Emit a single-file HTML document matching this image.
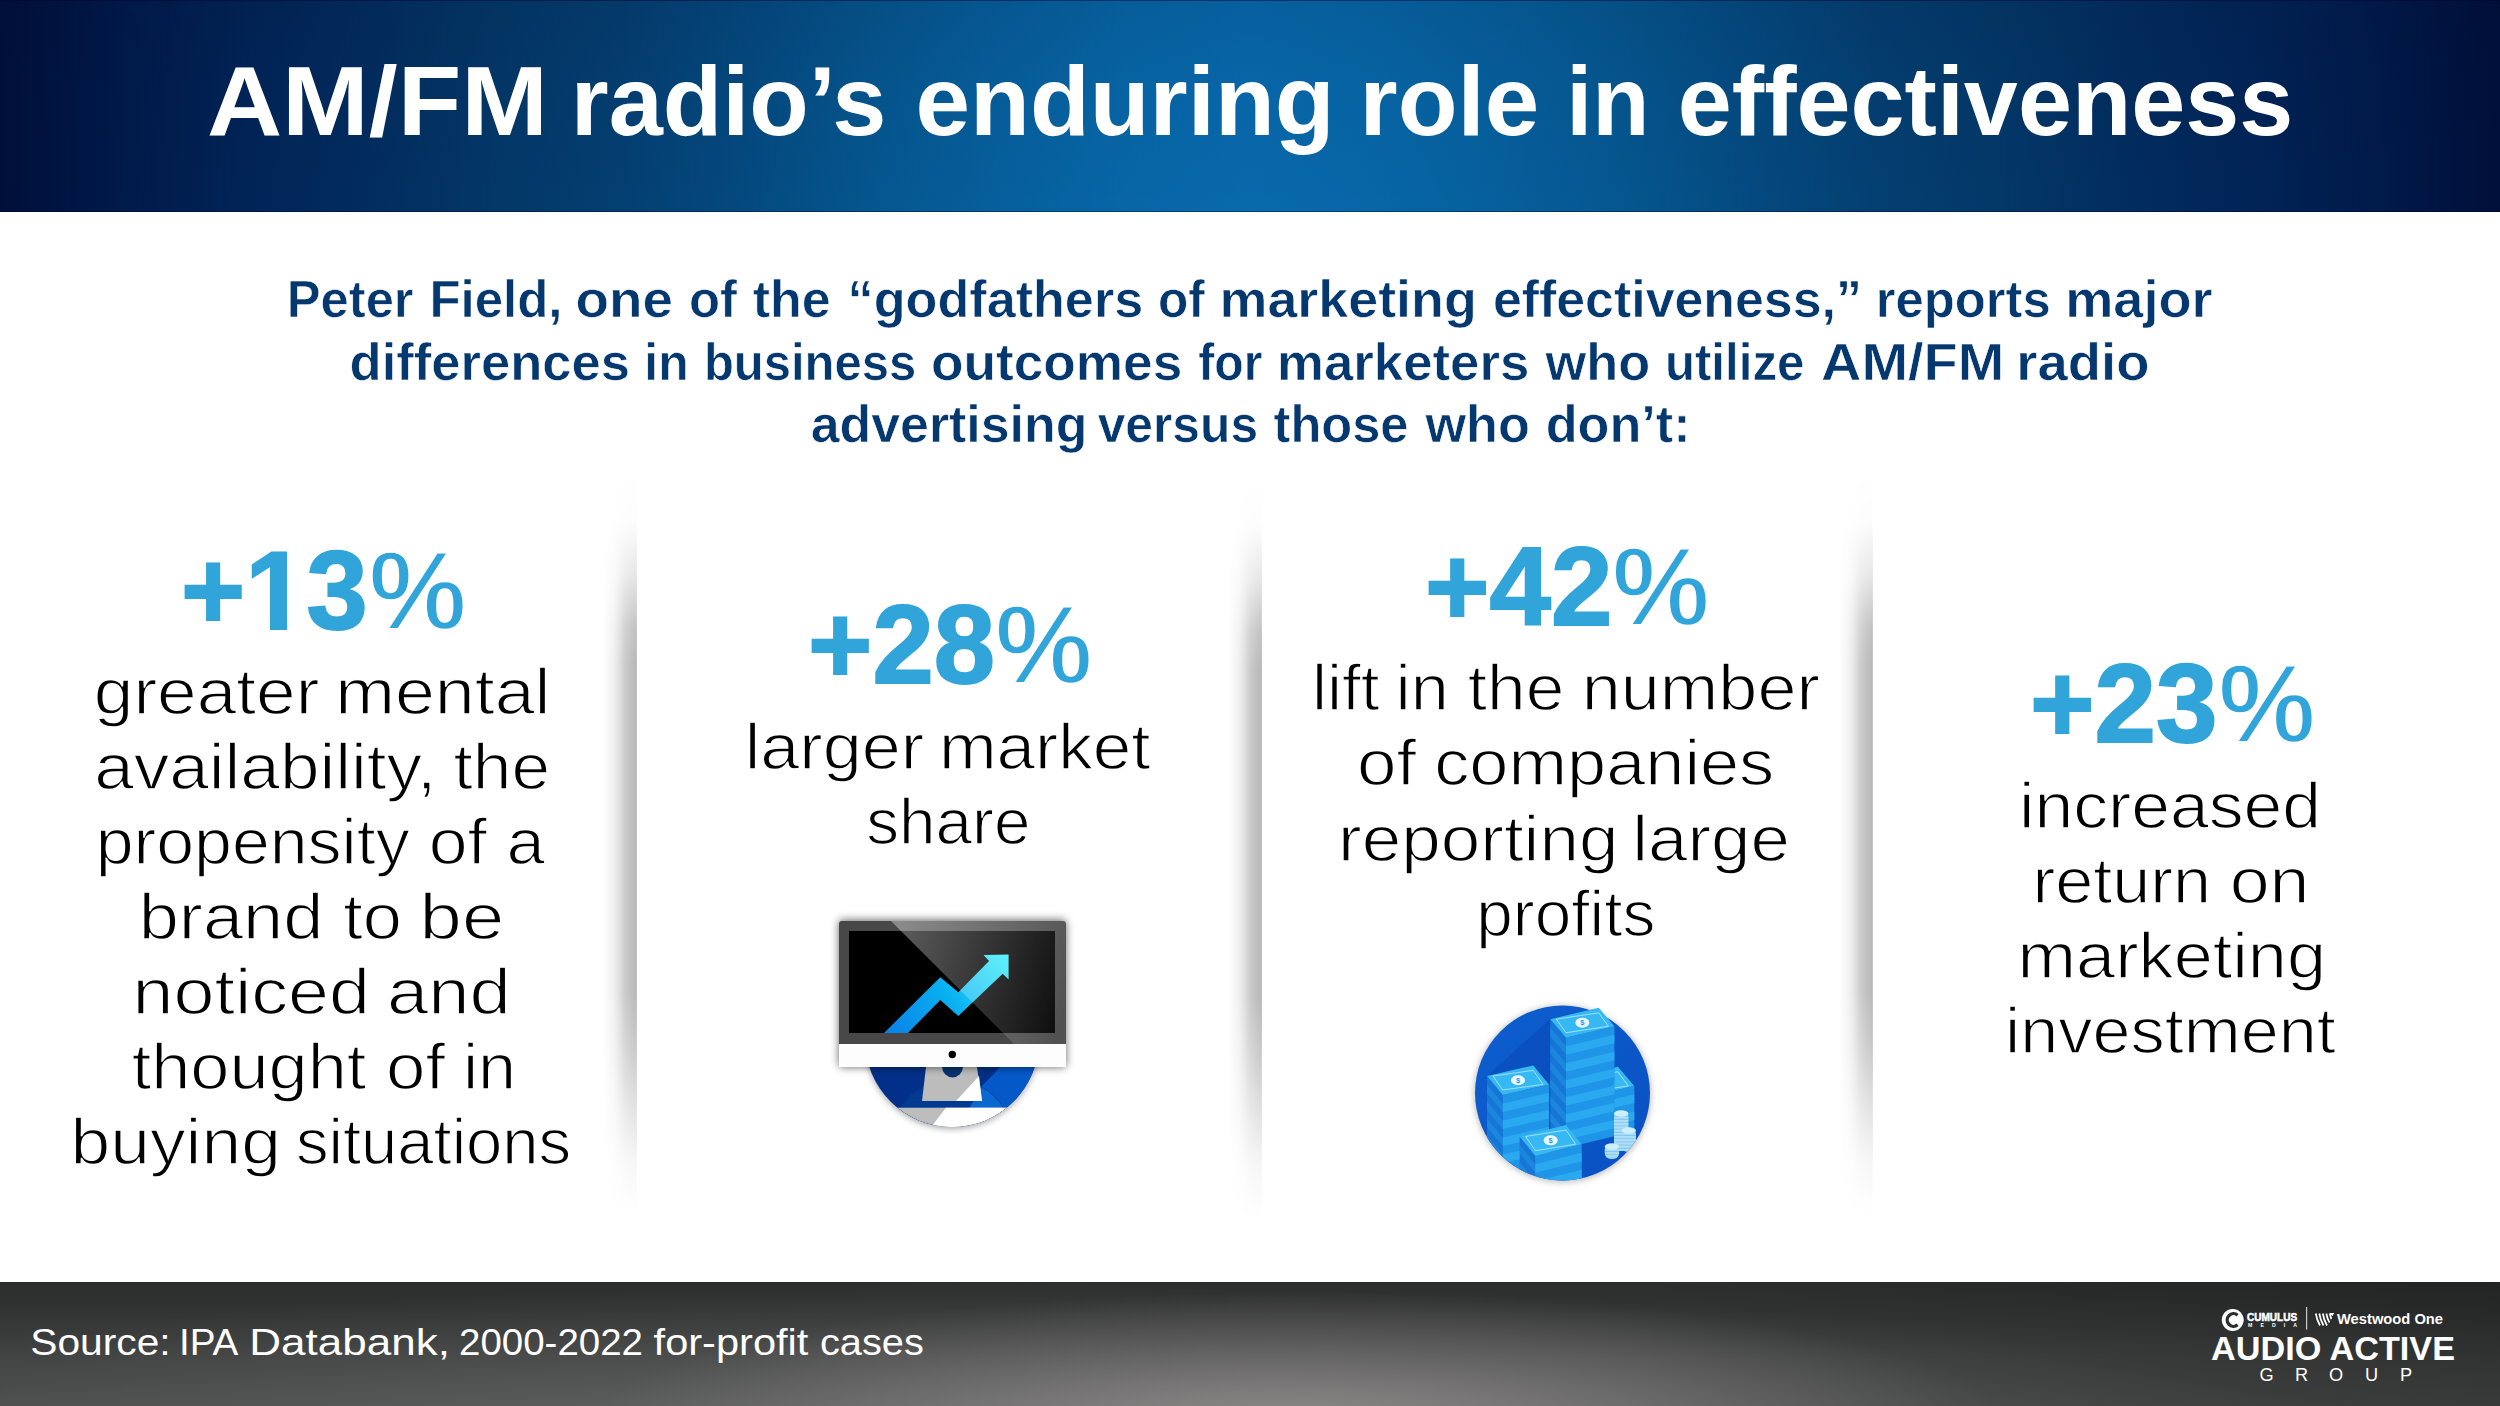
<!DOCTYPE html>
<html><head><meta charset="utf-8"><title>AM/FM radio’s enduring role in effectiveness</title><style>
html,body{margin:0;padding:0;}
body{width:2500px;height:1406px;overflow:hidden;position:relative;background:#fff;font-family:"Liberation Sans",sans-serif;}
.hdr{position:absolute;left:0;top:0;width:2500px;height:212px;
 background:
  linear-gradient(to bottom, rgba(0,10,40,0.10) 0%, rgba(0,10,40,0.04) 40%, rgba(0,0,0,0) 100%),
  linear-gradient(to right,#000f3a 0%,#001a4a 5%,#012457 10%,#022d5f 15%,#033868 20%,#043f72 25%,#044a80 30%,#05568f 35%,#065f9c 40%,#0766a6 45%,#0869ac 50%,#0766a6 55%,#065f9c 60%,#05568f 65%,#044a80 70%,#043f72 75%,#033868 80%,#022d5f 85%,#012457 90%,#001a4a 95%,#000f3a 100%);}
.hdr:before{content:"";position:absolute;left:0;top:0;width:100%;height:1px;background:rgba(0,0,45,0.45);}
.hdr:after{content:"";position:absolute;left:0;bottom:0;width:100%;height:1px;background:rgba(0,0,25,0.4);}
.ftr{position:absolute;left:0;top:1282px;width:2500px;height:124px;
 background:
  radial-gradient(ellipse 700px 125px at 1300px 135px, rgba(175,168,168,0.55) 0%, rgba(165,160,160,0.25) 55%, rgba(150,145,145,0) 100%),
  radial-gradient(ellipse 1300px 150px at 1000px 150px, rgba(150,150,150,0.35) 0%, rgba(150,150,150,0.12) 60%, rgba(150,150,150,0) 100%),
  linear-gradient(to right, rgba(0,0,0,0) 0%, rgba(0,0,0,0) 65%, rgba(10,12,12,0.28) 100%),
  linear-gradient(to bottom,#2c2d2d 0%,#313232 20%,#404141 60%,#4a4b4b 100%);}
.sh{position:absolute;width:34px;
 background:linear-gradient(to right,rgba(0,0,0,0) 0%,rgba(0,0,0,0.01) 6%,rgba(0,0,0,0.03) 18%,rgba(0,0,0,0.06) 33%,rgba(0,0,0,0.12) 48%,rgba(0,0,0,0.2) 64%,rgba(0,0,0,0.24) 79%,rgba(0,0,0,0.28) 97%,rgba(0,0,0,0.22) 100%);
 -webkit-mask-image:linear-gradient(to bottom,rgba(0,0,0,0) 0%,rgba(0,0,0,0.04) 7%,rgba(0,0,0,0.35) 14%,rgba(0,0,0,0.85) 21%,#000 26%,#000 70%,rgba(0,0,0,0.75) 78%,rgba(0,0,0,0.4) 86%,rgba(0,0,0,0.12) 93%,rgba(0,0,0,0) 100%);
 mask-image:linear-gradient(to bottom,rgba(0,0,0,0) 0%,rgba(0,0,0,0.04) 7%,rgba(0,0,0,0.35) 14%,rgba(0,0,0,0.85) 21%,#000 26%,#000 70%,rgba(0,0,0,0.75) 78%,rgba(0,0,0,0.4) 86%,rgba(0,0,0,0.12) 93%,rgba(0,0,0,0) 100%);}
svg.main{position:absolute;left:0;top:0;}
</style></head>
<body>
<div class="hdr"></div>

<div class="sh" style="left:603px;top:470px;height:745px"></div>
<div class="sh" style="left:1228px;top:475px;height:745px"></div>
<div class="sh" style="left:1838.5px;top:470px;height:745px"></div>

<div class="ftr"></div>
<svg class="main" width="2500" height="1406" viewBox="0 0 2500 1406" font-family="'Liberation Sans', sans-serif">

<defs>
 <clipPath id="clip1"><rect x="100" y="480" width="400" height="136"/><rect x="100" y="616" width="150" height="30"/><rect x="270" y="616" width="17" height="30"/><rect x="305.5" y="616" width="200" height="30"/></clipPath>
 <clipPath id="mcirc"><circle cx="952" cy="1040" r="87"/></clipPath>
 <clipPath id="refl"><polygon points="891,921 1070,921 1070,1044 1014,1044"/></clipPath>
 <linearGradient id="reflg" x1="891" y1="960" x2="1066" y2="1010" gradientUnits="userSpaceOnUse"><stop offset="0" stop-color="#fff" stop-opacity="0.36"/><stop offset="0.45" stop-color="#fff" stop-opacity="0.22"/><stop offset="1" stop-color="#fff" stop-opacity="0.05"/></linearGradient>
 <linearGradient id="bez" x1="0" y1="0" x2="1" y2="0"><stop offset="0" stop-color="#808080"/><stop offset="1" stop-color="#565656"/></linearGradient>
 <linearGradient id="arr" x1="884" y1="1033" x2="1009" y2="955" gradientUnits="userSpaceOnUse"><stop offset="0" stop-color="#0a7fe8"/><stop offset="0.5" stop-color="#08b0f0"/><stop offset="1" stop-color="#40f0fa"/></linearGradient>
 <filter id="blur4" x="-20%" y="-20%" width="140%" height="140%"><feGaussianBlur stdDeviation="4"/></filter>
 <filter id="blur3" x="-20%" y="-20%" width="140%" height="140%"><feGaussianBlur stdDeviation="3"/></filter>
</defs>
<g>
 <circle cx="952" cy="1042" r="87" fill="rgba(0,0,0,0.35)" filter="url(#blur3)"/>
 <g clip-path="url(#mcirc)">
  <rect x="860" y="950" width="190" height="180" fill="#022f88"/>
  <polygon points="1007,1060 1060,1000 1060,1140 930,1140" fill="#0558c8"/>
  <circle cx="952" cy="1140" r="61" fill="#003a92"/>
  <path d="M981,1087 A61,61 0 0 1 1013,1140 L952,1140 Z" fill="#0a68d0"/>
  <polygon points="926,1067 977,1067 982,1101 922,1101" fill="#bcbcbc"/>
  <polygon points="979,1076 982,1101 956,1101" fill="#ffffff"/>
  <circle cx="952.5" cy="1067" r="10.4" fill="#08336e"/>
  <rect x="860" y="1107.7" width="190" height="25" fill="#bdbdbd"/>
  <polygon points="946,1107.7 1050,1107.7 1050,1135 925,1135" fill="#ffffff"/>
 </g>
 <rect x="839" y="920" width="227" height="147" rx="3" fill="rgba(0,0,0,0.6)" filter="url(#blur4)"/>
 <rect x="839" y="921" width="227" height="146" rx="3" fill="#484848"/>
 <rect x="839" y="1044" width="227" height="23" fill="#fdfdfd"/>
 <rect x="839" y="1063" width="227" height="4" rx="3" fill="#fdfdfd"/>
 <rect x="849" y="931" width="206" height="102" fill="#000"/>
 <polygon points="884,1033 940.3,977.2 958.3,992.2 989,961.1 983.5,955 1008.6,954.6 1008.6,979.4 1002.7,973.7 958.3,1016.1 940.3,999.9 907.9,1033" fill="url(#arr)"/>
 <polygon points="891,921 1066,921 1066,1044 1014,1044" fill="url(#reflg)"/>
 <circle cx="952.3" cy="1054.5" r="3.7" fill="#000"/>
</g>


<defs>
 <clipPath id="ccirc"><circle cx="1562.5" cy="1093" r="87.5"/></clipPath>
 <pattern id="coinp" patternUnits="userSpaceOnUse" x="0" y="0" width="10" height="3.2"><rect width="10" height="3.2" fill="#ade0f7"/><rect y="2.2" width="10" height="1" fill="#86c4ec"/></pattern>
 <linearGradient id="cbg" x1="0" y1="0" x2="1" y2="1"><stop offset="0" stop-color="#0d5fd0"/><stop offset="1" stop-color="#0a4fc0"/></linearGradient>
</defs>
<circle cx="1562.5" cy="1094" r="88.5" fill="rgba(0,0,0,0.25)" filter="url(#blur3)"/>
<g clip-path="url(#ccirc)">
 <rect x="1470" y="1000" width="190" height="190" fill="url(#cbg)"/>
 <polygon points="1487,1076 1550,1019 1550,1150 1487,1180" fill="#0a4ab8" opacity="0.6"/>
 <polygon points="1571.7,1077.5 1588.1000000000001,1096.7 1588.1000000000001,1141.7 1571.7,1122.5" fill="#1676d6"/>
<polygon points="1588.1000000000001,1096.7 1634.3000000000002,1086.0 1634.3000000000002,1131.0 1588.1000000000001,1141.7" fill="#1f95e8"/>
<polygon points="1571.7,1086.0 1588.1000000000001,1105.2 1588.1000000000001,1113.7 1571.7,1094.5" fill="#1c86de"/>
<polygon points="1588.1000000000001,1105.2 1634.3000000000002,1094.5 1634.3000000000002,1103.0 1588.1000000000001,1113.7" fill="#2aa9f0"/>
<polygon points="1571.7,1103.0 1588.1000000000001,1122.2 1588.1000000000001,1130.7 1571.7,1111.5" fill="#1c86de"/>
<polygon points="1588.1000000000001,1122.2 1634.3000000000002,1111.5 1634.3000000000002,1120.0 1588.1000000000001,1130.7" fill="#2aa9f0"/>
<polygon points="1571.7,1120.0 1588.1000000000001,1139.2 1588.1000000000001,1141.7 1571.7,1122.5" fill="#1c86de"/>
<polygon points="1588.1000000000001,1139.2 1634.3000000000002,1128.5 1634.3000000000002,1131.0 1588.1000000000001,1141.7" fill="#2aa9f0"/>
<polygon points="1571.7,1077.5 1617.9,1066.8 1634.3000000000002,1086.0 1588.1000000000001,1096.7" fill="#36b8f2"/>
<polygon points="1577.7,1077.5 1617.9,1071.8 1628.3000000000002,1086.0 1588.1000000000001,1091.7" fill="none" stroke="rgba(255,255,255,0.55)" stroke-width="1"/>
<ellipse cx="1603.0" cy="1081.75" rx="7" ry="5" fill="#ffffff" opacity="0.9"/>
<text x="1603.0" y="1084.35" font-size="7.5" font-weight="bold" fill="#2a9ee6" text-anchor="middle">$</text>
</g>
<polygon points="1550.3,1019.2 1566.0,1037.7 1566.0,1147.7 1550.3,1129.2" fill="#1676d6"/>
<polygon points="1566.0,1037.7 1614.4,1026.3000000000002 1614.4,1136.3000000000002 1566.0,1147.7" fill="#1f95e8"/>
<polygon points="1550.3,1027.7 1566.0,1046.2 1566.0,1054.7 1550.3,1036.2" fill="#1c86de"/>
<polygon points="1566.0,1046.2 1614.4,1034.8000000000002 1614.4,1043.3000000000002 1566.0,1054.7" fill="#2aa9f0"/>
<polygon points="1550.3,1044.7 1566.0,1063.2 1566.0,1071.7 1550.3,1053.2" fill="#1c86de"/>
<polygon points="1566.0,1063.2 1614.4,1051.8000000000002 1614.4,1060.3000000000002 1566.0,1071.7" fill="#2aa9f0"/>
<polygon points="1550.3,1061.7 1566.0,1080.2 1566.0,1088.7 1550.3,1070.2" fill="#1c86de"/>
<polygon points="1566.0,1080.2 1614.4,1068.8000000000002 1614.4,1077.3000000000002 1566.0,1088.7" fill="#2aa9f0"/>
<polygon points="1550.3,1078.7 1566.0,1097.2 1566.0,1105.7 1550.3,1087.2" fill="#1c86de"/>
<polygon points="1566.0,1097.2 1614.4,1085.8000000000002 1614.4,1094.3000000000002 1566.0,1105.7" fill="#2aa9f0"/>
<polygon points="1550.3,1095.7 1566.0,1114.2 1566.0,1122.7 1550.3,1104.2" fill="#1c86de"/>
<polygon points="1566.0,1114.2 1614.4,1102.8000000000002 1614.4,1111.3000000000002 1566.0,1122.7" fill="#2aa9f0"/>
<polygon points="1550.3,1112.7 1566.0,1131.2 1566.0,1139.7 1550.3,1121.2" fill="#1c86de"/>
<polygon points="1566.0,1131.2 1614.4,1119.8000000000002 1614.4,1128.3000000000002 1566.0,1139.7" fill="#2aa9f0"/>
<polygon points="1550.3,1019.2 1598.7,1007.8000000000001 1614.4,1026.3000000000002 1566.0,1037.7" fill="#36b8f2"/>
<polygon points="1556.3,1019.2 1598.7,1012.8000000000001 1608.4,1026.3000000000002 1566.0,1032.7" fill="none" stroke="rgba(255,255,255,0.55)" stroke-width="1"/>
<ellipse cx="1582.35" cy="1022.75" rx="7" ry="5" fill="#ffffff" opacity="0.9"/>
<text x="1582.35" y="1025.35" font-size="7.5" font-weight="bold" fill="#2a9ee6" text-anchor="middle">$</text>
<g clip-path="url(#ccirc)">
 <polygon points="1487,1076 1502.7,1095 1502.7,1205 1487,1186" fill="#1676d6"/>
<polygon points="1502.7,1095 1549.0,1084.4 1549.0,1194.4 1502.7,1205" fill="#1f95e8"/>
<polygon points="1487,1084.5 1502.7,1103.5 1502.7,1112.0 1487,1093.0" fill="#1c86de"/>
<polygon points="1502.7,1103.5 1549.0,1092.9 1549.0,1101.4 1502.7,1112.0" fill="#2aa9f0"/>
<polygon points="1487,1101.5 1502.7,1120.5 1502.7,1129.0 1487,1110.0" fill="#1c86de"/>
<polygon points="1502.7,1120.5 1549.0,1109.9 1549.0,1118.4 1502.7,1129.0" fill="#2aa9f0"/>
<polygon points="1487,1118.5 1502.7,1137.5 1502.7,1146.0 1487,1127.0" fill="#1c86de"/>
<polygon points="1502.7,1137.5 1549.0,1126.9 1549.0,1135.4 1502.7,1146.0" fill="#2aa9f0"/>
<polygon points="1487,1135.5 1502.7,1154.5 1502.7,1163.0 1487,1144.0" fill="#1c86de"/>
<polygon points="1502.7,1154.5 1549.0,1143.9 1549.0,1152.4 1502.7,1163.0" fill="#2aa9f0"/>
<polygon points="1487,1152.5 1502.7,1171.5 1502.7,1180.0 1487,1161.0" fill="#1c86de"/>
<polygon points="1502.7,1171.5 1549.0,1160.9 1549.0,1169.4 1502.7,1180.0" fill="#2aa9f0"/>
<polygon points="1487,1169.5 1502.7,1188.5 1502.7,1197.0 1487,1178.0" fill="#1c86de"/>
<polygon points="1502.7,1188.5 1549.0,1177.9 1549.0,1186.4 1502.7,1197.0" fill="#2aa9f0"/>
<polygon points="1487,1076 1533.3,1065.4 1549.0,1084.4 1502.7,1095" fill="#36b8f2"/>
<polygon points="1493,1076 1533.3,1070.4 1543.0,1084.4 1502.7,1090" fill="none" stroke="rgba(255,255,255,0.55)" stroke-width="1"/>
<ellipse cx="1518.0" cy="1080.2" rx="7" ry="5" fill="#ffffff" opacity="0.9"/>
<text x="1518.0" y="1082.8" font-size="7.5" font-weight="bold" fill="#2a9ee6" text-anchor="middle">$</text>
 <polygon points="1519.7,1136.5 1535.4,1155.7 1535.4,1215.7 1519.7,1196.5" fill="#1676d6"/>
<polygon points="1535.4,1155.7 1581.7,1144.2 1581.7,1204.2 1535.4,1215.7" fill="#1f95e8"/>
<polygon points="1519.7,1145.0 1535.4,1164.2 1535.4,1172.7 1519.7,1153.5" fill="#1c86de"/>
<polygon points="1535.4,1164.2 1581.7,1152.7 1581.7,1161.2 1535.4,1172.7" fill="#2aa9f0"/>
<polygon points="1519.7,1162.0 1535.4,1181.2 1535.4,1189.7 1519.7,1170.5" fill="#1c86de"/>
<polygon points="1535.4,1181.2 1581.7,1169.7 1581.7,1178.2 1535.4,1189.7" fill="#2aa9f0"/>
<polygon points="1519.7,1179.0 1535.4,1198.2 1535.4,1206.7 1519.7,1187.5" fill="#1c86de"/>
<polygon points="1535.4,1198.2 1581.7,1186.7 1581.7,1195.2 1535.4,1206.7" fill="#2aa9f0"/>
<polygon points="1519.7,1196.0 1535.4,1215.2 1535.4,1215.7 1519.7,1196.5" fill="#1c86de"/>
<polygon points="1535.4,1215.2 1581.7,1203.7 1581.7,1204.2 1535.4,1215.7" fill="#2aa9f0"/>
<polygon points="1519.7,1136.5 1566.0,1125.0 1581.7,1144.2 1535.4,1155.7" fill="#36b8f2"/>
<polygon points="1525.7,1136.5 1566.0,1130.0 1575.7,1144.2 1535.4,1150.7" fill="none" stroke="rgba(255,255,255,0.55)" stroke-width="1"/>
<ellipse cx="1550.7" cy="1140.35" rx="7" ry="5" fill="#ffffff" opacity="0.9"/>
<text x="1550.7" y="1142.9499999999998" font-size="7.5" font-weight="bold" fill="#2a9ee6" text-anchor="middle">$</text>
 <g fill="url(#coinp)">
  <rect x="1614" y="1111" width="14.5" height="40" rx="6"/>
  <rect x="1621.5" y="1128" width="14.5" height="24" rx="6"/>
  <rect x="1604.7" y="1144" width="14.5" height="15" rx="6"/>
 </g>
 <g fill="#cdeffb">
  <ellipse cx="1621.2" cy="1113.5" rx="7.2" ry="3.2"/>
  <ellipse cx="1628.7" cy="1130.5" rx="7.2" ry="3.2"/>
  <ellipse cx="1611.9" cy="1146.5" rx="7.2" ry="3.2"/>
 </g>
</g>


<g fill="#ffffff">
 <circle cx="2232.7" cy="1320" r="10.9" fill="#fff"/>
 <path d="M2237.6,1315.2 A6.3,6.3 0 1 0 2237.6,1324.8" fill="none" stroke="#2c2d2d" stroke-width="3.3"/>
 <rect x="2236.5" y="1318.9" width="7" height="2.2" fill="#fff"/>
 <text x="2247" y="1320.8" font-size="10.2" font-weight="bold" stroke="#fff" stroke-width="0.5" textLength="50.2" lengthAdjust="spacingAndGlyphs">CUMULUS</text>
 <text x="2248" y="1326.8" font-size="5.2" font-weight="bold" textLength="49" lengthAdjust="spacing">MEDIA</text>
 <rect x="2306" y="1307" width="1.2" height="22.6" fill="rgba(255,255,255,0.75)"/>
 <g stroke="#fff" stroke-width="1.7" fill="none" stroke-linecap="butt">
  <path d="M2315.8,1313.5 Q2316.8,1320 2320,1325.5"/>
  <path d="M2319.3,1313.5 Q2320.3,1320 2323.5,1325.5"/>
  <path d="M2322.8,1313.5 Q2323.8,1320 2327,1325.5"/>
  <path d="M2326.3,1313.5 Q2327.3,1319 2329.5,1322.5"/>
  <path d="M2329.8,1313.5 Q2330.5,1317 2331.5,1319"/>
 </g>
 <polygon points="2329,1313 2334.2,1313 2332.5,1316" fill="#fff"/>
 <text x="2337" y="1324" font-size="14.8" font-weight="bold" textLength="106" lengthAdjust="spacingAndGlyphs">Westwood One</text>
 <text x="2211" y="1359.6" font-size="32.7" font-weight="bold" textLength="244" lengthAdjust="spacingAndGlyphs">AUDIO ACTIVE</text>
 <text x="2259.5" y="1381" font-size="18.2">G</text>
 <text x="2295" y="1381" font-size="18.2">R</text>
 <text x="2329" y="1381" font-size="18.2">O</text>
 <text x="2365" y="1381" font-size="18.2">U</text>
 <text x="2400" y="1381" font-size="18.2">P</text>
</g>

<text x="206.9" y="135" font-size="97.8" font-weight="bold" fill="#ffffff" textLength="341.0" lengthAdjust="spacingAndGlyphs">AM/FM</text>
<text x="570.8" y="135" font-size="97.8" font-weight="bold" fill="#ffffff" textLength="315.5" lengthAdjust="spacingAndGlyphs">radio’s</text>
<text x="915.6" y="135" font-size="97.8" font-weight="bold" fill="#ffffff" textLength="419.0" lengthAdjust="spacingAndGlyphs">enduring</text>
<text x="1359.6" y="135" font-size="97.8" font-weight="bold" fill="#ffffff" textLength="179.6" lengthAdjust="spacingAndGlyphs">role</text>
<text x="1566.3" y="135" font-size="97.8" font-weight="bold" fill="#ffffff" textLength="83.2" lengthAdjust="spacingAndGlyphs">in</text>
<text x="1677.8" y="135" font-size="97.8" font-weight="bold" fill="#ffffff" textLength="615.5" lengthAdjust="spacingAndGlyphs">effectiveness</text>
<text x="286.8" y="317" font-size="52" font-weight="bold" fill="#04386e" stroke="#fff" stroke-width="0.6" textLength="126.8" lengthAdjust="spacingAndGlyphs">Peter</text>
<text x="429.4" y="317" font-size="52" font-weight="bold" fill="#04386e" stroke="#fff" stroke-width="0.6" textLength="133.1" lengthAdjust="spacingAndGlyphs">Field,</text>
<text x="575.6" y="317" font-size="52" font-weight="bold" fill="#04386e" stroke="#fff" stroke-width="0.6" textLength="97.4" lengthAdjust="spacingAndGlyphs">one</text>
<text x="689.0" y="317" font-size="52" font-weight="bold" fill="#04386e" stroke="#fff" stroke-width="0.6" textLength="48.0" lengthAdjust="spacingAndGlyphs">of</text>
<text x="752.7" y="317" font-size="52" font-weight="bold" fill="#04386e" stroke="#fff" stroke-width="0.6" textLength="78.0" lengthAdjust="spacingAndGlyphs">the</text>
<text x="847.6" y="317" font-size="52" font-weight="bold" fill="#04386e" stroke="#fff" stroke-width="0.6" textLength="295.6" lengthAdjust="spacingAndGlyphs">“godfathers</text>
<text x="1158.1" y="317" font-size="52" font-weight="bold" fill="#04386e" stroke="#fff" stroke-width="0.6" textLength="46.8" lengthAdjust="spacingAndGlyphs">of</text>
<text x="1219.6" y="317" font-size="52" font-weight="bold" fill="#04386e" stroke="#fff" stroke-width="0.6" textLength="257.2" lengthAdjust="spacingAndGlyphs">marketing</text>
<text x="1492.9" y="317" font-size="52" font-weight="bold" fill="#04386e" stroke="#fff" stroke-width="0.6" textLength="369.0" lengthAdjust="spacingAndGlyphs">effectiveness,”</text>
<text x="1875.8" y="317" font-size="52" font-weight="bold" fill="#04386e" stroke="#fff" stroke-width="0.6" textLength="174.9" lengthAdjust="spacingAndGlyphs">reports</text>
<text x="2065.2" y="317" font-size="52" font-weight="bold" fill="#04386e" stroke="#fff" stroke-width="0.6" textLength="147.4" lengthAdjust="spacingAndGlyphs">major</text>
<text x="349.6" y="380" font-size="52" font-weight="bold" fill="#04386e" stroke="#fff" stroke-width="0.6" textLength="280.5" lengthAdjust="spacingAndGlyphs">differences</text>
<text x="644.3" y="380" font-size="52" font-weight="bold" fill="#04386e" stroke="#fff" stroke-width="0.6" textLength="44.4" lengthAdjust="spacingAndGlyphs">in</text>
<text x="703.9" y="380" font-size="52" font-weight="bold" fill="#04386e" stroke="#fff" stroke-width="0.6" textLength="212.4" lengthAdjust="spacingAndGlyphs">business</text>
<text x="930.9" y="380" font-size="52" font-weight="bold" fill="#04386e" stroke="#fff" stroke-width="0.6" textLength="251.4" lengthAdjust="spacingAndGlyphs">outcomes</text>
<text x="1198.2" y="380" font-size="52" font-weight="bold" fill="#04386e" stroke="#fff" stroke-width="0.6" textLength="64.2" lengthAdjust="spacingAndGlyphs">for</text>
<text x="1277.1" y="380" font-size="52" font-weight="bold" fill="#04386e" stroke="#fff" stroke-width="0.6" textLength="252.2" lengthAdjust="spacingAndGlyphs">marketers</text>
<text x="1545.5" y="380" font-size="52" font-weight="bold" fill="#04386e" stroke="#fff" stroke-width="0.6" textLength="104.6" lengthAdjust="spacingAndGlyphs">who</text>
<text x="1664.9" y="380" font-size="52" font-weight="bold" fill="#04386e" stroke="#fff" stroke-width="0.6" textLength="139.5" lengthAdjust="spacingAndGlyphs">utilize</text>
<text x="1821.1" y="380" font-size="52" font-weight="bold" fill="#04386e" stroke="#fff" stroke-width="0.6" textLength="183.1" lengthAdjust="spacingAndGlyphs">AM/FM</text>
<text x="2016.3" y="380" font-size="52" font-weight="bold" fill="#04386e" stroke="#fff" stroke-width="0.6" textLength="133.1" lengthAdjust="spacingAndGlyphs">radio</text>
<text x="810.7" y="442" font-size="52" font-weight="bold" fill="#04386e" stroke="#fff" stroke-width="0.6" textLength="276.7" lengthAdjust="spacingAndGlyphs">advertising</text>
<text x="1097.7" y="442" font-size="52" font-weight="bold" fill="#04386e" stroke="#fff" stroke-width="0.6" textLength="160.4" lengthAdjust="spacingAndGlyphs">versus</text>
<text x="1273.6" y="442" font-size="52" font-weight="bold" fill="#04386e" stroke="#fff" stroke-width="0.6" textLength="134.9" lengthAdjust="spacingAndGlyphs">those</text>
<text x="1425.5" y="442" font-size="52" font-weight="bold" fill="#04386e" stroke="#fff" stroke-width="0.6" textLength="104.4" lengthAdjust="spacingAndGlyphs">who</text>
<text x="1545.7" y="442" font-size="52" font-weight="bold" fill="#04386e" stroke="#fff" stroke-width="0.6" textLength="144.9" lengthAdjust="spacingAndGlyphs">don’t:</text>
<text x="181.1" y="629" font-size="112" font-weight="bold" fill="#31a5da" stroke="#31a5da" stroke-width="2" clip-path="url(#clip1)" textLength="186.5" lengthAdjust="spacingAndGlyphs">+13</text>
<text x="368.8" y="629" font-size="112" font-weight="bold" fill="#31a5da" stroke="#fff" stroke-width="2.4" textLength="97.9" lengthAdjust="spacingAndGlyphs">%</text>
<text x="808.1" y="683" font-size="112" font-weight="bold" fill="#31a5da" stroke="#31a5da" stroke-width="2" textLength="186.9" lengthAdjust="spacingAndGlyphs">+28</text>
<text x="995.1" y="683" font-size="112" font-weight="bold" fill="#31a5da" stroke="#fff" stroke-width="2.4" textLength="97.6" lengthAdjust="spacingAndGlyphs">%</text>
<text x="1425.1" y="625" font-size="112" font-weight="bold" fill="#31a5da" stroke="#31a5da" stroke-width="2" textLength="187.2" lengthAdjust="spacingAndGlyphs">+42</text>
<text x="1612.0" y="625" font-size="112" font-weight="bold" fill="#31a5da" stroke="#fff" stroke-width="2.4" textLength="97.7" lengthAdjust="spacingAndGlyphs">%</text>
<text x="2030.1" y="742" font-size="112" font-weight="bold" fill="#31a5da" stroke="#31a5da" stroke-width="2" textLength="187.4" lengthAdjust="spacingAndGlyphs">+23</text>
<text x="2218.2" y="742" font-size="112" font-weight="bold" fill="#31a5da" stroke="#fff" stroke-width="2.4" textLength="97.5" lengthAdjust="spacingAndGlyphs">%</text>
<text x="93.8" y="714.4" font-size="65" font-weight="normal" fill="#000" stroke="#fff" stroke-width="1.4" textLength="225.6" lengthAdjust="spacingAndGlyphs">greater</text>
<text x="335.2" y="714.4" font-size="65" font-weight="normal" fill="#000" stroke="#fff" stroke-width="1.4" textLength="215.3" lengthAdjust="spacingAndGlyphs">mental</text>
<text x="94.2" y="789.4" font-size="65" font-weight="normal" fill="#000" stroke="#fff" stroke-width="1.4" textLength="342.4" lengthAdjust="spacingAndGlyphs">availability,</text>
<text x="453.5" y="789.4" font-size="65" font-weight="normal" fill="#000" stroke="#fff" stroke-width="1.4" textLength="96.5" lengthAdjust="spacingAndGlyphs">the</text>
<text x="95.7" y="864.4" font-size="65" font-weight="normal" fill="#000" stroke="#fff" stroke-width="1.4" textLength="314.0" lengthAdjust="spacingAndGlyphs">propensity</text>
<text x="428.7" y="864.4" font-size="65" font-weight="normal" fill="#000" stroke="#fff" stroke-width="1.4" textLength="58.2" lengthAdjust="spacingAndGlyphs">of</text>
<text x="506.4" y="864.4" font-size="65" font-weight="normal" fill="#000" stroke="#fff" stroke-width="1.4" textLength="38.3" lengthAdjust="spacingAndGlyphs">a</text>
<text x="138.7" y="939.4" font-size="65" font-weight="normal" fill="#000" stroke="#fff" stroke-width="1.4" textLength="184.8" lengthAdjust="spacingAndGlyphs">brand</text>
<text x="343.3" y="939.4" font-size="65" font-weight="normal" fill="#000" stroke="#fff" stroke-width="1.4" textLength="58.7" lengthAdjust="spacingAndGlyphs">to</text>
<text x="419.6" y="939.4" font-size="65" font-weight="normal" fill="#000" stroke="#fff" stroke-width="1.4" textLength="84.6" lengthAdjust="spacingAndGlyphs">be</text>
<text x="132.6" y="1014.4" font-size="65" font-weight="normal" fill="#000" stroke="#fff" stroke-width="1.4" textLength="237.3" lengthAdjust="spacingAndGlyphs">noticed</text>
<text x="387.0" y="1014.4" font-size="65" font-weight="normal" fill="#000" stroke="#fff" stroke-width="1.4" textLength="123.8" lengthAdjust="spacingAndGlyphs">and</text>
<text x="131.7" y="1089.4" font-size="65" font-weight="normal" fill="#000" stroke="#fff" stroke-width="1.4" textLength="234.7" lengthAdjust="spacingAndGlyphs">thought</text>
<text x="386.1" y="1089.4" font-size="65" font-weight="normal" fill="#000" stroke="#fff" stroke-width="1.4" textLength="59.1" lengthAdjust="spacingAndGlyphs">of</text>
<text x="462.9" y="1089.4" font-size="65" font-weight="normal" fill="#000" stroke="#fff" stroke-width="1.4" textLength="53.2" lengthAdjust="spacingAndGlyphs">in</text>
<text x="70.5" y="1164.4" font-size="65" font-weight="normal" fill="#000" stroke="#fff" stroke-width="1.4" textLength="210.4" lengthAdjust="spacingAndGlyphs">buying</text>
<text x="295.9" y="1164.4" font-size="65" font-weight="normal" fill="#000" stroke="#fff" stroke-width="1.4" textLength="275.3" lengthAdjust="spacingAndGlyphs">situations</text>
<text x="744.7" y="769.4" font-size="65" font-weight="normal" fill="#000" stroke="#fff" stroke-width="1.4" textLength="179.5" lengthAdjust="spacingAndGlyphs">larger</text>
<text x="938.9" y="769.4" font-size="65" font-weight="normal" fill="#000" stroke="#fff" stroke-width="1.4" textLength="211.7" lengthAdjust="spacingAndGlyphs">market</text>
<text x="866.3" y="844.4" font-size="65" font-weight="normal" fill="#000" stroke="#fff" stroke-width="1.4" textLength="164.1" lengthAdjust="spacingAndGlyphs">share</text>
<text x="1311.9" y="710.4" font-size="65" font-weight="normal" fill="#000" stroke="#fff" stroke-width="1.4" textLength="67.6" lengthAdjust="spacingAndGlyphs">lift</text>
<text x="1395.5" y="710.4" font-size="65" font-weight="normal" fill="#000" stroke="#fff" stroke-width="1.4" textLength="53.2" lengthAdjust="spacingAndGlyphs">in</text>
<text x="1467.8" y="710.4" font-size="65" font-weight="normal" fill="#000" stroke="#fff" stroke-width="1.4" textLength="96.5" lengthAdjust="spacingAndGlyphs">the</text>
<text x="1581.8" y="710.4" font-size="65" font-weight="normal" fill="#000" stroke="#fff" stroke-width="1.4" textLength="238.0" lengthAdjust="spacingAndGlyphs">number</text>
<text x="1357.1" y="785.4" font-size="65" font-weight="normal" fill="#000" stroke="#fff" stroke-width="1.4" textLength="59.2" lengthAdjust="spacingAndGlyphs">of</text>
<text x="1434.2" y="785.4" font-size="65" font-weight="normal" fill="#000" stroke="#fff" stroke-width="1.4" textLength="340.1" lengthAdjust="spacingAndGlyphs">companies</text>
<text x="1338.1" y="861.4" font-size="65" font-weight="normal" fill="#000" stroke="#fff" stroke-width="1.4" textLength="280.3" lengthAdjust="spacingAndGlyphs">reporting</text>
<text x="1632.3" y="861.4" font-size="65" font-weight="normal" fill="#000" stroke="#fff" stroke-width="1.4" textLength="157.7" lengthAdjust="spacingAndGlyphs">large</text>
<text x="1476.3" y="935.9" font-size="65" font-weight="normal" fill="#000" stroke="#fff" stroke-width="1.4" textLength="179.0" lengthAdjust="spacingAndGlyphs">profits</text>
<text x="2019.0" y="828.4" font-size="65" font-weight="normal" fill="#000" stroke="#fff" stroke-width="1.4" textLength="302.1" lengthAdjust="spacingAndGlyphs">increased</text>
<text x="2032.5" y="903.4" font-size="65" font-weight="normal" fill="#000" stroke="#fff" stroke-width="1.4" textLength="178.6" lengthAdjust="spacingAndGlyphs">return</text>
<text x="2229.7" y="903.4" font-size="65" font-weight="normal" fill="#000" stroke="#fff" stroke-width="1.4" textLength="79.8" lengthAdjust="spacingAndGlyphs">on</text>
<text x="2017.6" y="978.4" font-size="65" font-weight="normal" fill="#000" stroke="#fff" stroke-width="1.4" textLength="308.4" lengthAdjust="spacingAndGlyphs">marketing</text>
<text x="2005.1" y="1053.4" font-size="65" font-weight="normal" fill="#000" stroke="#fff" stroke-width="1.4" textLength="330.7" lengthAdjust="spacingAndGlyphs">investment</text>
<text x="30.3" y="1355" font-size="37.7" font-weight="normal" fill="#ffffff" textLength="140.4" lengthAdjust="spacingAndGlyphs">Source:</text>
<text x="178.9" y="1355" font-size="37.7" font-weight="normal" fill="#ffffff" textLength="59.5" lengthAdjust="spacingAndGlyphs">IPA</text>
<text x="249.2" y="1355" font-size="37.7" font-weight="normal" fill="#ffffff" textLength="200.7" lengthAdjust="spacingAndGlyphs">Databank,</text>
<text x="459.0" y="1355" font-size="37.7" font-weight="normal" fill="#ffffff" textLength="184.0" lengthAdjust="spacingAndGlyphs">2000-2022</text>
<text x="653.6" y="1355" font-size="37.7" font-weight="normal" fill="#ffffff" textLength="154.8" lengthAdjust="spacingAndGlyphs">for-profit</text>
<text x="819.9" y="1355" font-size="37.7" font-weight="normal" fill="#ffffff" textLength="103.9" lengthAdjust="spacingAndGlyphs">cases</text>

</svg>
</body></html>
